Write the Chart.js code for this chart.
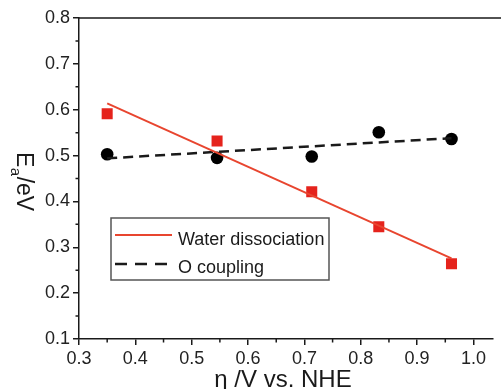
<!DOCTYPE html>
<html>
<head>
<meta charset="utf-8">
<script src="https://cdn.jsdelivr.net/npm/chart.js@4/dist/chart.umd.min.js"></script>
<style>
  html, body { margin: 0; padding: 0; background: #fff; }
  #wrap { width: 501px; height: 389px; }
</style>
</head>
<body>
<div id="wrap"><canvas id="chart" width="501" height="389"></canvas></div>
<script>
// values
const etaWater = [0.35, 0.545, 0.713, 0.832, 0.961];
const eaWater = [0.591, 0.532, 0.421, 0.345, 0.264];
const etaCoupling = [0.35, 0.545, 0.713, 0.832, 0.961];
const eaCoupling = [0.503, 0.495, 0.498, 0.551, 0.536];

// linear fits drawn in the figure (end points)
const waterFitX = [0.35, 0.961];
const waterFitY = [0.614, 0.276];
const couplingFitX = [0.35, 0.961];
const couplingFitY = [0.494, 0.538];

const xTicks = [0.3, 0.4, 0.5, 0.6, 0.7, 0.8, 0.9, 1.0];
const yTicks = [0.1, 0.2, 0.3, 0.4, 0.5, 0.6, 0.7, 0.8];
const xMinor = [0.35, 0.45, 0.55, 0.65, 0.75, 0.85, 0.95];
const yMinor = [0.15, 0.25, 0.35, 0.45, 0.55, 0.65, 0.75];

const seriesNames = ["Water dissociation", "O coupling"];

const RED = "#e5231c";
const RED_LINE = "#e8452f";
const INK = "#1a1a1a";
const FONT = "'Liberation Sans', Arial, sans-serif";

const pts = (xs, ys) => xs.map((x, i) => ({ x: x, y: ys[i] }));

// minor ticks, top frame line, axis titles and the boxed legend
const extras = {
  id: "extras",
  afterDraw(chart) {
    const { ctx, chartArea } = chart;
    const xs = chart.scales.x, ys = chart.scales.y;
    ctx.save();
    ctx.strokeStyle = INK;
    ctx.lineWidth = 1.5;
    ctx.beginPath();
    xMinor.forEach(v => {
      const px = xs.getPixelForValue(v);
      ctx.moveTo(px, chartArea.bottom);
      ctx.lineTo(px, chartArea.bottom + 3.5);
    });
    yMinor.forEach(v => {
      const py = ys.getPixelForValue(v);
      ctx.moveTo(chartArea.left, py);
      ctx.lineTo(chartArea.left - 3.5, py);
    });
    // top frame
    ctx.moveTo(chartArea.left, chartArea.top);
    ctx.lineTo(501, chartArea.top);
    ctx.stroke();

    // x title
    ctx.fillStyle = INK;
    ctx.font = "24px " + FONT;
    ctx.textAlign = "center";
    ctx.textBaseline = "alphabetic";
    ctx.fillText("\u03b7 /V vs. NHE", 283, 387);

    // y title, rotated, with subscript
    ctx.save();
    ctx.translate(17, 152);
    ctx.rotate(Math.PI / 2);
    ctx.textAlign = "left";
    ctx.font = "23px " + FONT;
    ctx.fillText("E", 0, 0);
    let w = ctx.measureText("E").width;
    ctx.font = "15px " + FONT;
    ctx.fillText("a", w + 0.5, 6);
    w += ctx.measureText("a").width + 1;
    ctx.font = "23px " + FONT;
    ctx.fillText("/eV", w, 0);
    ctx.restore();

    // legend
    const lx = chartArea.left + 32, ly = 218;
    ctx.strokeStyle = "#555";
    ctx.lineWidth = 1.5;
    ctx.strokeRect(lx, ly, 218, 62);
    ctx.lineWidth = 2;
    ctx.strokeStyle = RED_LINE;
    ctx.beginPath();
    ctx.moveTo(lx + 4, ly + 17);
    ctx.lineTo(lx + 61, ly + 17);
    ctx.stroke();
    ctx.strokeStyle = INK;
    ctx.lineWidth = 2.5;
    ctx.setLineDash([12, 8]);
    ctx.beginPath();
    ctx.moveTo(lx + 4, ly + 46);
    ctx.lineTo(lx + 61, ly + 46);
    ctx.stroke();
    ctx.setLineDash([]);
    ctx.font = "18px " + FONT;
    ctx.textAlign = "left";
    ctx.fillStyle = INK;
    ctx.fillText(seriesNames[0], lx + 67, ly + 27);
    ctx.fillText(seriesNames[1], lx + 67, ly + 55);
    ctx.restore();
  }
};

const axisCommon = {
  type: "linear",
  grid: { display: true, drawOnChartArea: false, drawTicks: true, tickLength: 6, color: INK, lineWidth: 1.5 },
  border: { display: true, color: INK, width: 1.5 },
  ticks: {
    color: "#222",
    padding: 3,
    font: { family: FONT, size: 18 },
    callback: v => Number(v).toFixed(1)
  },
  title: { display: false }
};

new Chart(document.getElementById("chart"), {
  type: "scatter",
  data: {
    datasets: [
      {
        label: seriesNames[0] + " fit",
        data: pts(waterFitX, waterFitY),
        showLine: true,
        borderColor: RED_LINE,
        borderWidth: 2,
        pointRadius: 0,
        fill: false
      },
      {
        label: seriesNames[1] + " fit",
        data: pts(couplingFitX, couplingFitY),
        showLine: true,
        borderColor: INK,
        borderWidth: 2.5,
        borderDash: [10, 6],
        pointRadius: 0,
        fill: false
      },
      {
        label: seriesNames[0],
        data: pts(etaWater, eaWater),
        pointStyle: "rect",
        pointRadius: 7.8,
        backgroundColor: RED,
        borderWidth: 0
      },
      {
        label: seriesNames[1],
        data: pts(etaCoupling, eaCoupling),
        pointStyle: "circle",
        pointRadius: 6.3,
        backgroundColor: "#000",
        borderWidth: 0
      }
    ]
  },
  options: {
    responsive: false,
    animation: false,
    devicePixelRatio: 1,
    layout: { padding: { left: 0, right: 0, top: 18, bottom: 0 } },
    plugins: { legend: { display: false }, tooltip: { enabled: false } },
    scales: {
      x: {
        ...axisCommon,
        min: 0.3,
        max: 1.035,
        afterBuildTicks: s => { s.ticks = xTicks.map(v => ({ value: v })); },
        afterFit: s => { s.height = 50; }
      },
      y: {
        ...axisCommon,
        min: 0.1,
        max: 0.8,
        afterBuildTicks: s => { s.ticks = yTicks.map(v => ({ value: v })); },
        afterFit: s => { s.width = 79; }
      }
    }
  },
  plugins: [extras]
});
</script>
</body>
</html>
